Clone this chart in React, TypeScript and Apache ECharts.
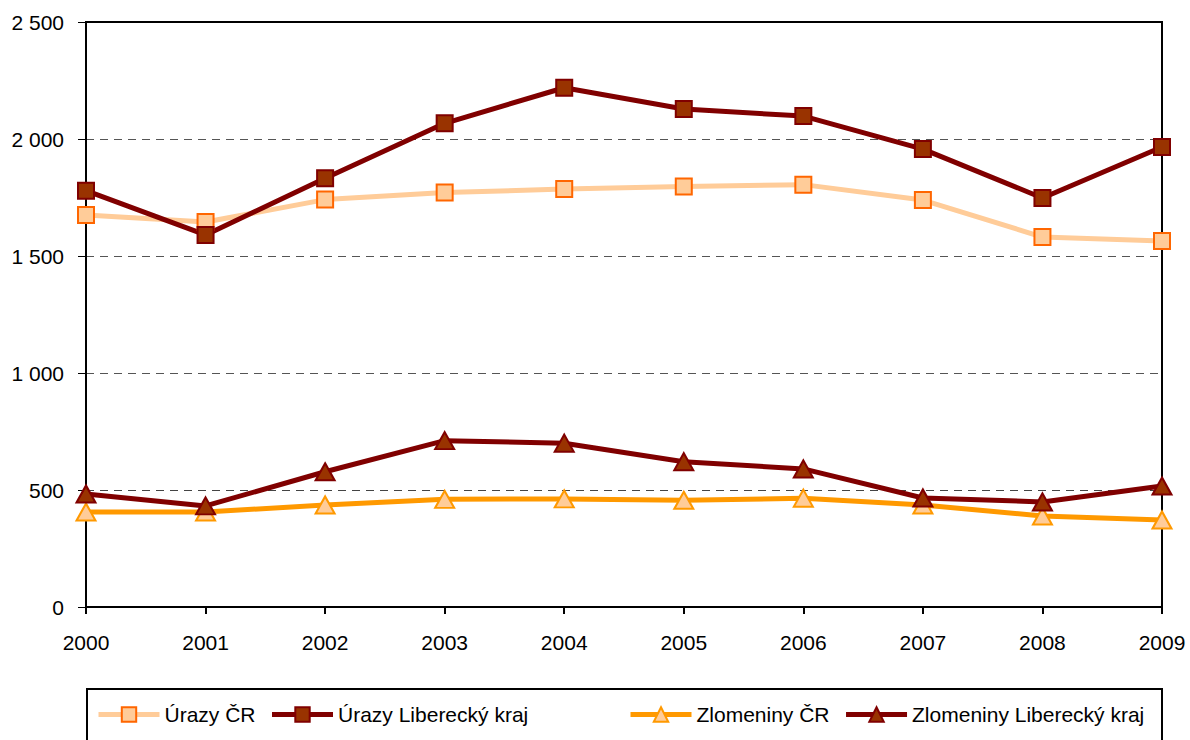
import React, { useEffect, useRef } from "react";
import * as echarts from "echarts";

const years = ["2000", "2001", "2002", "2003", "2004", "2005", "2006", "2007", "2008", "2009"];
const urazyCR = [1675, 1645, 1741, 1771, 1786, 1797, 1805, 1739, 1581, 1564];
const urazyLK = [1779, 1590, 1832, 2067, 2219, 2128, 2098, 1957, 1748, 1966];
const zlomCR = [406, 406, 436, 460, 462, 456, 465, 436, 389, 372];
const zlomLK = [483, 432, 578, 711, 700, 621, 590, 466, 449, 517];

const FONT = "'Liberation Sans', Arial, sans-serif";

function fmt(v: number): string {
  if (v >= 1000) {
    const th = Math.floor(v / 1000);
    const rest = String(v % 1000).padStart(3, "0");
    return th + " " + rest;
  }
  return String(v);
}

export default function App() {
  const ref = useRef<HTMLDivElement>(null);
  useEffect(() => {
    if (!ref.current) return;
    const chart = echarts.init(ref.current, undefined, { renderer: "svg" });
    const mk = (name: string, data: number[], line: string, fill: string, border: string, symbol: string, size: any) => ({
      name,
      type: "line",
      data,
      symbol,
      symbolSize: size,
      lineStyle: { color: line, width: 5 },
      itemStyle: { color: fill, borderColor: border, borderWidth: 2 },
      emphasis: { disabled: true },
    });
    const legendBase = {
      top: 704,
      padding: 0,
      itemWidth: 61,
      itemHeight: 18,
      itemGap: 14,
      lineStyle: { width: 5 },
      textStyle: { fontSize: 21, color: "#000", fontFamily: FONT },
    };
    chart.setOption({
      animation: false,
      backgroundColor: "#fff",
      textStyle: { fontFamily: FONT },
      grid: { left: 86, right: 28, top: 22, bottom: 133, show: true, borderColor: "#000", borderWidth: 2, backgroundColor: "transparent" },
      xAxis: {
        type: "category",
        data: years,
        boundaryGap: false,
        axisLine: { lineStyle: { color: "#000", width: 2 } },
        axisTick: { show: true, length: 7, lineStyle: { color: "#000", width: 2 }, alignWithLabel: true },
        axisLabel: { color: "#000", fontSize: 21, fontFamily: FONT, margin: 25, interval: 0 },
        splitLine: { show: false },
      },
      yAxis: {
        type: "value",
        min: 0,
        max: 2500,
        interval: 500,
        axisLine: { show: true, lineStyle: { color: "#000", width: 2 } },
        axisTick: { show: true, length: 8, lineStyle: { color: "#000", width: 1 } },
        axisLabel: { color: "#000", fontSize: 21, fontFamily: FONT, margin: 22, formatter: (v: number) => fmt(v) },
        splitLine: {
          show: true,
          lineStyle: { color: ["#000", "#444", "#555", "#555", "#555", "#000"], type: [8, 6], width: 1 },
        },
      },
      legend: [
        { ...legendBase, left: 96, data: ["Úrazy ČR", "Úrazy Liberecký kraj"] },
        { ...legendBase, left: 628, data: ["Zlomeniny ČR", "Zlomeniny Liberecký kraj"] },
      ],
      graphic: [
        {
          type: "rect",
          shape: { x: 87, y: 689, width: 1075, height: 70 },
          style: { fill: "none", stroke: "#000", lineWidth: 2 },
          silent: true,
        },
      ],
      series: [
        mk("Úrazy ČR", urazyCR, "#FFCC99", "#FFCC99", "#FF6600", "rect", 16),
        mk("Úrazy Liberecký kraj", urazyLK, "#800000", "#993300", "#800000", "rect", 16),
        mk("Zlomeniny ČR", zlomCR, "#FF9900", "#FFCC99", "#FF9900", "triangle", [19, 17]),
        mk("Zlomeniny Liberecký kraj", zlomLK, "#800000", "#993300", "#800000", "triangle", [19, 17]),
      ],
    });
    return () => chart.dispose();
  }, []);
  return <div ref={ref} style={{ width: 1190, height: 740, position: "absolute", left: 0, top: 0 }} />;
}
